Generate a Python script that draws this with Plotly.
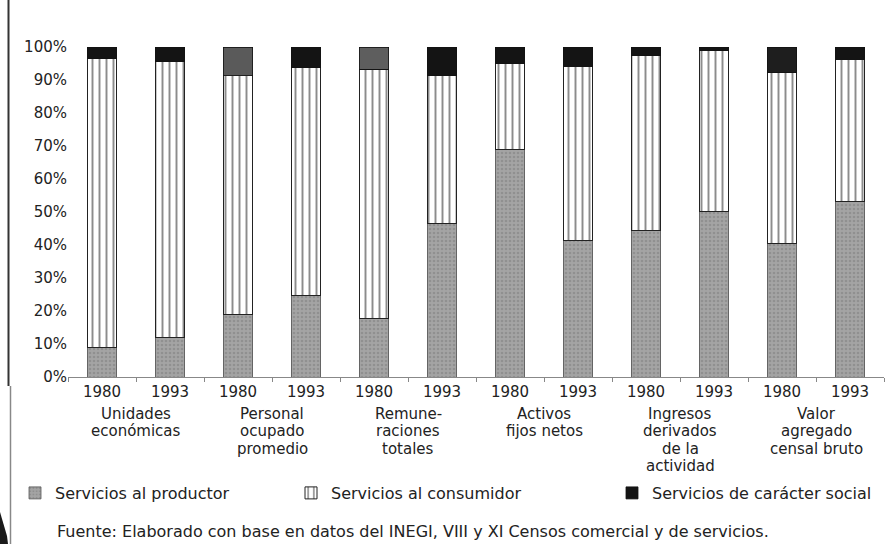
import plotly.graph_objects as go

# ---- data ----
years = ["1980", "1993", "1980", "1993", "1980", "1993",
         "1980", "1993", "1980", "1993", "1980", "1993"]
groups = ["Unidades<br>económicas",
          "Personal<br>ocupado<br>promedio",
          "Remune-<br>raciones<br>totales",
          "Activos<br>fijos netos",
          "Ingresos<br>derivados<br>de la<br>actividad",
          "Valor<br>agregado<br>censal bruto"]
productor = [8.9, 12.0, 18.8, 24.8, 17.8, 46.5, 69.0, 41.5, 44.5, 50.3, 40.5, 53.3]
consumidor = [87.6, 83.5, 72.5, 68.9, 75.5, 44.8, 26.0, 52.7, 52.9, 48.6, 51.7, 43.0]
social = [3.5, 4.5, 8.7, 6.3, 6.7, 8.7, 5.0, 5.8, 2.6, 1.1, 7.8, 3.7]
social_colors = ["#141414", "#141414", "#5a5a5a", "#141414", "#5e5e5e", "#141414",
                 "#141414", "#141414", "#141414", "#141414", "#1e1e1e", "#141414"]
series_names = ["Servicios al productor", "Servicios al consumidor",
                "Servicios de carácter social"]
fuente = ("Fuente: Elaborado con base en datos del INEGI, VIII y XI Censos "
          "comercial y de servicios.")

FONT = "DejaVu Sans"
x = list(range(len(years)))

fig = go.Figure()
fig.add_trace(go.Bar(
    x=x, y=productor, name=series_names[0], width=0.43, legend="legend",
    marker=dict(color="#9c9c9c", line=dict(color="#555", width=0.8),
                pattern=dict(shape=".", fgcolor="#7c7c7c", bgcolor="#a4a4a4",
                             size=4, solidity=0.35)),
))
fig.add_trace(go.Bar(
    x=x, y=consumidor, name=series_names[1], width=0.43, legend="legend2",
    marker=dict(color="white", line=dict(color="#222", width=1),
                pattern=dict(shape="|", fgcolor="#1a1a1a", bgcolor="white",
                             size=7, solidity=0.28)),
))
fig.add_trace(go.Bar(
    x=x, y=social, name=series_names[2], width=0.43, legend="legend3",
    marker=dict(color=social_colors, line=dict(color="#111", width=0.8)),
))

# pixel -> paper helpers
plot_left, plot_w = 68, 816
plot_top, plot_bot = 47, 377
plot_h = plot_bot - plot_top
def px(p):
    return (p - plot_left) / plot_w
def py(p):
    return (plot_bot - p) / plot_h

# group labels, one annotation per line
line_px = 17.5
first_line_px = 413.5
for gi, g in enumerate(groups):
    for li, txt in enumerate(g.split("<br>")):
        fig.add_annotation(
            x=2 * gi + 0.5, xref="x", y=py(first_line_px + li * line_px), yref="paper",
            text=txt, showarrow=False, xanchor="center", yanchor="middle",
            font=dict(family=FONT, size=15, color="#222"),
        )

fig.add_annotation(
    x=px(55), xref="paper", y=py(531), yref="paper",
    text=fuente, showarrow=False, xanchor="left", yanchor="middle",
    font=dict(family=FONT, size=16, color="#222"),
)

# scan border marks on the left edge
fig.add_shape(type="line", xref="paper", yref="paper",
              x0=px(8.5), x1=px(8.5), y0=py(386), y1=py(0),
              line=dict(color="#333", width=2))
fig.add_shape(type="line", xref="paper", yref="paper",
              x0=px(10.5), x1=px(10.5), y0=py(544), y1=py(386),
              line=dict(color="#888", width=1.5))
fig.add_shape(type="path", xref="paper", yref="paper",
              path=f"M {px(0)},{py(512)} L {px(7)},{py(536)} L {px(8)},{py(544)} L {px(0)},{py(544)} Z",
              fillcolor="#1a1a1a", line=dict(width=0))

leg_common = dict(orientation="h", yanchor="middle", xanchor="left",
                  font=dict(family=FONT, size=16, color="#222"),
                  bgcolor="rgba(0,0,0,0)", itemwidth=30)
fig.update_layout(
    barmode="stack",
    width=888, height=544,
    margin=dict(l=68, r=4, t=47, b=167),
    paper_bgcolor="white", plot_bgcolor="white",
    font=dict(family=FONT, size=15, color="#222"),
    showlegend=True,
    legend=dict(x=px(15), y=py(493), **leg_common),
    legend2=dict(x=px(291), y=py(493), **leg_common),
    legend3=dict(x=px(612), y=py(493), **leg_common),
    xaxis=dict(range=[-0.5, 11.5], tickmode="array", tickvals=x, ticktext=years,
               showgrid=False, zeroline=False, showline=True, linecolor="#888",
               linewidth=1, ticks="", ticklabelstandoff=1,
               tickfont=dict(family=FONT, size=15, color="#222"),
               minor=dict(tickmode="array", tickvals=[i - 0.5 for i in range(13)],
                          ticks="outside", ticklen=4, tickcolor="#888")),
    yaxis=dict(range=[0, 100], dtick=10, ticksuffix="%", showgrid=False,
               zeroline=False, showline=False, ticks="",
               tickfont=dict(family=FONT, size=15, color="#222")),
)

fig.write_html("out.html")
